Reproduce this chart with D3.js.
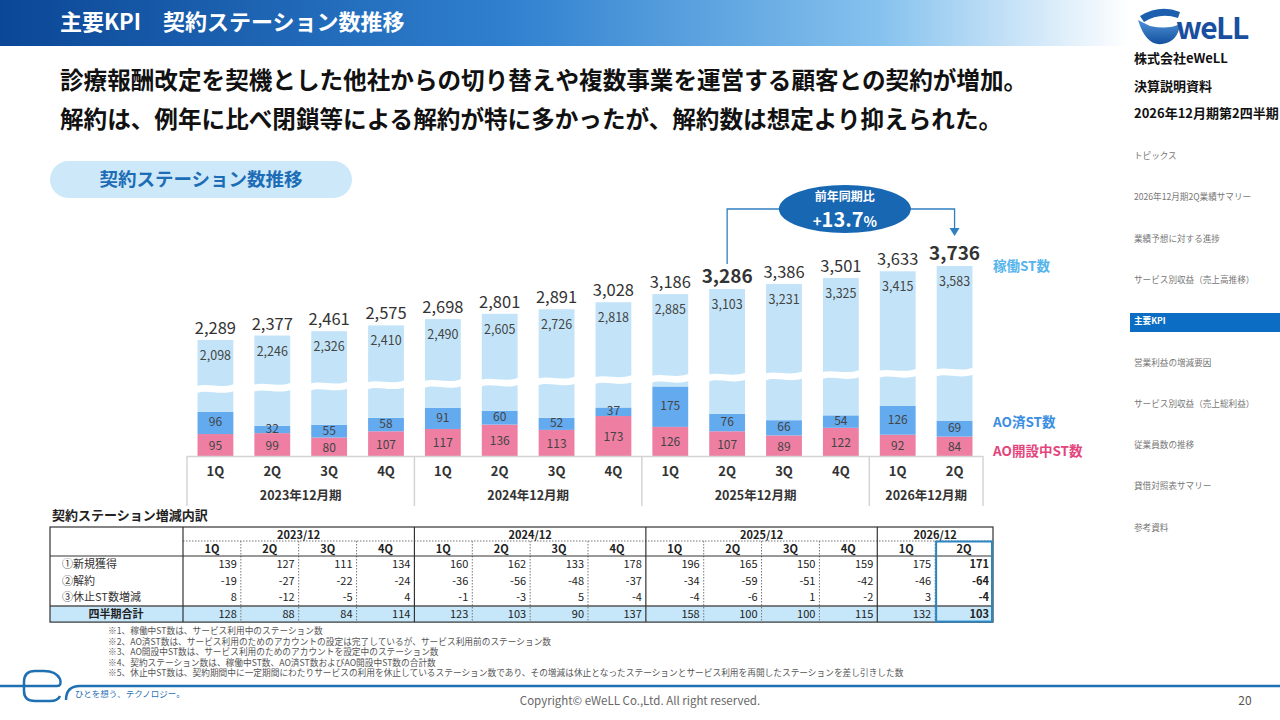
<!DOCTYPE html>
<html lang="ja">
<head>
<meta charset="utf-8">
<script src="https://cdn.jsdelivr.net/npm/d3@7"></script>
<style>
  html, body { margin: 0; padding: 0; background: #fff; }
  svg { display: block; font-family: "Noto Sans CJK JP", "Noto Sans", sans-serif; }
</style>
</head>
<body>
<svg id="slide" width="1280" height="720"></svg>
<script>
// ---- データ ----
const quarters = ["1Q","2Q","3Q","4Q","1Q","2Q","3Q","4Q","1Q","2Q","3Q","4Q","1Q","2Q"];
const fiscalYears = ["2023年12月期","2024年12月期","2025年12月期","2026年12月期"];
const yearCounts = [4, 4, 4, 2];
const tableYears = ["2023/12","2024/12","2025/12","2026/12"];

const activeST = [2098,2246,2326,2410,2490,2605,2726,2818,2885,3103,3231,3325,3415,3583];
const aoDoneST = [96,32,55,58,91,60,52,37,175,76,66,54,126,69];
const aoOpenST = [95,99,80,107,117,136,113,173,126,107,89,122,92,84];
const boldTotals = [9, 13];   // 前年同期比の比較対象

const newAcq = [139,127,111,134,160,162,133,178,196,165,150,159,175,171];
const cancelled = [-19,-27,-22,-24,-36,-56,-48,-37,-34,-59,-51,-42,-46,-64];
const suspendDiff = [8,-12,-5,4,-1,-3,5,-4,-4,-6,1,-2,3,-4];
const quarterTotal = [128,88,84,114,123,103,90,137,158,100,100,115,132,103];
const rowLabels = ["①新規獲得","②解約","③休止ST数増減"];

const yoyTitle = "前年同期比";
const yoyValue = "13.7";

const navItems = ["トピックス","2026年12月期2Q業績サマリー","業績予想に対する進捗","サービス別収益（売上高推移）",
  "主要KPI","営業利益の増減要因","サービス別収益（売上総利益）","従業員数の推移","貸借対照表サマリー","参考資料"];
const activeNav = 4;

const notes = [
  "※1、稼働中ST数は、サービス利用中のステーション数",
  "※2、AO済ST数は、サービス利用のためのアカウントの設定は完了しているが、サービス利用前のステーション数",
  "※3、AO開設中ST数は、サービス利用のためのアカウントを設定中のステーション数",
  "※4、契約ステーション数は、稼働中ST数、AO済ST数およびAO開設中ST数の合計数",
  "※5、休止中ST数は、契約期間中に一定期間にわたりサービスの利用を休止しているステーション数であり、その増減は休止となったステーションとサービス利用を再開したステーションを差し引きした数"
];

const totals = activeST.map((v, i) => v + aoDoneST[i] + aoOpenST[i]);
const fmt = d3.format(",");

const svg = d3.select("#slide");
const defs = svg.append("defs");

// ---- ヘッダー ----
const hg = defs.append("linearGradient").attr("id", "headGrad")
  .attr("x1", "0%").attr("y1", "0%").attr("x2", "100%").attr("y2", "0%");
hg.append("stop").attr("offset", "0%").attr("stop-color", "#0b4796");
hg.append("stop").attr("offset", "45%").attr("stop-color", "#2f80cf");
hg.append("stop").attr("offset", "78%").attr("stop-color", "#86c2ee");
hg.append("stop").attr("offset", "100%").attr("stop-color", "#ffffff");

svg.append("rect").attr("x", 0).attr("y", 0).attr("width", 1130).attr("height", 46)
  .attr("fill", "url(#headGrad)");
svg.append("text").attr("x", 60).attr("y", 30)
  .attr("fill", "#fff").attr("font-size", 22).attr("font-weight", 700)
  .text("主要KPI　契約ステーション数推移");

// リード文
svg.append("text").attr("x", 60).attr("y", 89)
  .attr("font-size", 23.6).attr("font-weight", 700).attr("fill", "#111")
  .text("診療報酬改定を契機とした他社からの切り替えや複数事業を運営する顧客との契約が増加。");
svg.append("text").attr("x", 60).attr("y", 128)
  .attr("font-size", 23.6).attr("font-weight", 700).attr("fill", "#111")
  .text("解約は、例年に比べ閉鎖等による解約が特に多かったが、解約数は想定より抑えられた。");

// 見出しピル
svg.append("rect").attr("x", 50).attr("y", 161).attr("width", 302).attr("height", 37)
  .attr("rx", 18.5).attr("fill", "#cce8f9");
svg.append("text").attr("x", 201).attr("y", 186).attr("text-anchor", "middle")
  .attr("font-size", 18.5).attr("font-weight", 700).attr("fill", "#1c6db5")
  .text("契約ステーション数推移");

// ---- 棒グラフ ----
const x = d3.scaleBand().domain(d3.range(quarters.length))
  .range([187, 983]).paddingInner(0.37).paddingOuter(0.185);
// 軸を途中で省略するので折れ線状のスケール
const y = d3.scaleLinear().domain([0, 329, 1507, 3736]).range([456, 380, 380, 266]);

const rows = quarters.map((q, i) => ({ i, open: aoOpenST[i], done: aoDoneST[i], active: activeST[i] }));
const series = d3.stack().keys(["open", "done", "active"])(rows);
const colors = { open: "#ee7fa2", done: "#64aaee", active: "#c3e4f8" };

const chart = svg.append("g");
chart.selectAll("g.series")
  .data(series)
  .enter().append("g")
  .attr("fill", d => colors[d.key])
  .selectAll("rect")
  .data(d => d)
  .enter().append("rect")
  .attr("x", d => x(d.data.i))
  .attr("y", d => y(d[1]))
  .attr("width", x.bandwidth())
  .attr("height", d => y(d[0]) - y(d[1]));

// 省略の波線（白）
const bw = x.bandwidth();
const breakY = cx => 388 - (cx - 215) * 0.0223;
chart.selectAll(".brk")
  .data(rows)
  .enter().append("path")
  .attr("class", "brk")
  .attr("fill", "#fff")
  .attr("d", d => {
    const x0 = x(d.i) - 1, x1 = x(d.i) + bw + 1, c = breakY(x(d.i) + bw / 2);
    return `M${x0},${c - 2} C${x0 + bw * 0.35},${c - 5} ${x0 + bw * 0.65},${c + 1} ${x1},${c - 4}`
      + ` L${x1},${c + 3} C${x0 + bw * 0.65},${c + 8} ${x0 + bw * 0.35},${c + 1} ${x0},${c + 5} Z`;
  });

// 段ごとの値ラベル
chart.selectAll(".lbl-open")
  .data(rows).enter().append("text")
  .attr("x", d => x(d.i) + bw / 2)
  .attr("y", d => (y(0) + y(d.open)) / 2 + 5)
  .attr("text-anchor", "middle").attr("font-size", 12).attr("fill", "#444")
  .text(d => d.open);
chart.selectAll(".lbl-done")
  .data(rows).enter().append("text")
  .attr("x", d => x(d.i) + bw / 2)
  .attr("y", d => (y(d.open) + y(d.open + d.done)) / 2 + 3.5)
  .attr("text-anchor", "middle").attr("font-size", 12).attr("fill", "#444")
  .text(d => d.done);
chart.selectAll(".lbl-active")
  .data(rows).enter().append("text")
  .attr("x", d => x(d.i) + bw / 2)
  .attr("y", d => y(totals[d.i]) + 20)
  .attr("text-anchor", "middle").attr("font-size", 12.5).attr("fill", "#444")
  .text(d => fmt(d.active));

// 合計ラベル
chart.selectAll(".lbl-total")
  .data(rows).enter().append("text")
  .attr("x", d => x(d.i) + bw / 2)
  .attr("y", d => y(totals[d.i]) - 6)
  .attr("text-anchor", "middle")
  .attr("font-size", d => boldTotals.includes(d.i) ? 19 : 16.5)
  .attr("font-weight", d => boldTotals.includes(d.i) ? 700 : 400)
  .attr("fill", "#333")
  .text(d => fmt(totals[d.i]));

// カテゴリ軸（四半期＋年度）
const axisG = svg.append("g");
axisG.append("line").attr("x1", 187).attr("x2", 983).attr("y1", 456.5).attr("y2", 456.5)
  .attr("stroke", "#d4d4d4").attr("stroke-width", 1.5);
let start = 0;
const groups = yearCounts.map((n, k) => { const g = { k, s: start, e: start + n - 1 }; start += n; return g; });
const groupLeft = g => x(g.s) - x.step() * x.paddingInner() / 2;
const groupRight = g => x(g.e) + bw + x.step() * x.paddingInner() / 2;
axisG.selectAll(".sep")
  .data([groupLeft(groups[0])].concat(groups.map(groupRight)))
  .enter().append("line")
  .attr("x1", d => d).attr("x2", d => d).attr("y1", 456).attr("y2", 506)
  .attr("stroke", "#d4d4d4").attr("stroke-width", 1.5);
axisG.selectAll(".q")
  .data(quarters).enter().append("text")
  .attr("x", (d, i) => x(i) + bw / 2).attr("y", 476)
  .attr("text-anchor", "middle").attr("font-size", 13).attr("font-weight", 700).attr("fill", "#333")
  .text(d => d);
axisG.selectAll(".fy")
  .data(groups).enter().append("text")
  .attr("x", g => (groupLeft(g) + groupRight(g)) / 2).attr("y", 500)
  .attr("text-anchor", "middle").attr("font-size", 12.5).attr("font-weight", 700).attr("fill", "#333")
  .text(g => fiscalYears[g.k]);

// 凡例（右側）
const legend = [
  { t: "稼働ST数", c: "#55b4ec" },
  { t: "AO済ST数", c: "#3b8ee2" },
  { t: "AO開設中ST数", c: "#e3457c" }
];
svg.selectAll(".leg")
  .data(legend).enter().append("text")
  .attr("x", 993).attr("y", (d, i) => [271, 427, 456][i])
  .attr("font-size", 13.5).attr("font-weight", 700).attr("fill", d => d.c)
  .text(d => d.t);

// 前年同期比の注記
const ax0 = x(9) + bw / 2, ax1 = x(13) + bw / 2;
const ex = (ax0 + ax1) / 2 + 4, ey = 209;
svg.append("path")
  .attr("d", `M${ax0},${y(totals[9]) - 25} V${ey} H${ax1} V${y(totals[13]) - 36}`)
  .attr("fill", "none").attr("stroke", "#2f7fc1").attr("stroke-width", 1.3);
svg.append("path")
  .attr("d", `M${ax1 - 5},${y(totals[13]) - 38} L${ax1 + 5},${y(totals[13]) - 38} L${ax1},${y(totals[13]) - 30} Z`)
  .attr("fill", "#2f7fc1");
svg.append("ellipse").attr("cx", ex).attr("cy", ey).attr("rx", 66).attr("ry", 24)
  .attr("fill", "#1767b3");
svg.append("text").attr("x", ex).attr("y", ey - 8).attr("text-anchor", "middle")
  .attr("fill", "#fff").attr("font-size", 12).attr("font-weight", 700).text(yoyTitle);
const yoy = svg.append("text").attr("x", ex).attr("y", ey + 18).attr("text-anchor", "middle")
  .attr("fill", "#fff").attr("font-weight", 700);
yoy.append("tspan").attr("font-size", 15).text("+");
yoy.append("tspan").attr("font-size", 20).text(yoyValue);
yoy.append("tspan").attr("font-size", 14).text("%");

// ---- 増減内訳テーブル ----
svg.append("text").attr("x", 52).attr("y", 520)
  .attr("font-size", 13).attr("font-weight", 700).attr("fill", "#222")
  .text("契約ステーション増減内訳");

const tx = d3.scaleBand().domain(d3.range(quarters.length)).range([183, 993]);
const tw = tx.bandwidth();
const T = { top: 527, yr: 541, qr: 556, rh: 16.7 };
const tableRows = [newAcq, cancelled, suspendDiff];
const totalTop = T.qr + T.rh * 3;
const tBottom = totalTop + 16;
const tbl = svg.append("g").attr("font-size", 11).attr("fill", "#222");

tbl.append("rect").attr("x", 50).attr("y", totalTop).attr("width", 943).attr("height", tBottom - totalTop)
  .attr("fill", "#c6e6f9");
// 四半期の点線
tbl.selectAll(".qdiv")
  .data(d3.range(1, quarters.length).filter(i => ![4, 8, 12].includes(i)))
  .enter().append("line")
  .attr("x1", i => tx(i)).attr("x2", i => tx(i)).attr("y1", T.yr).attr("y2", tBottom)
  .attr("stroke", "#777").attr("stroke-dasharray", "1.5,1.5");
tbl.append("line").attr("x1", 183).attr("x2", 993).attr("y1", T.yr).attr("y2", T.yr)
  .attr("stroke", "#777").attr("stroke-dasharray", "1.5,1.5");
tbl.append("line").attr("x1", 50).attr("x2", 993).attr("y1", T.qr).attr("y2", T.qr)
  .attr("stroke", "#333").attr("stroke-width", 1);
tbl.append("line").attr("x1", 50).attr("x2", 993).attr("y1", totalTop).attr("y2", totalTop)
  .attr("stroke", "#555").attr("stroke-width", 1.5);
// 年度の区切り
tbl.selectAll(".ydiv")
  .data([0, 4, 8, 12])
  .enter().append("line")
  .attr("x1", i => tx(i)).attr("x2", i => tx(i)).attr("y1", T.top).attr("y2", tBottom)
  .attr("stroke", "#333").attr("stroke-width", 1.2);
tbl.append("rect").attr("x", 50).attr("y", T.top).attr("width", 943).attr("height", tBottom - T.top)
  .attr("fill", "none").attr("stroke", "#333").attr("stroke-width", 1.2);

tbl.selectAll(".yh")
  .data(tableYears).enter().append("text")
  .attr("x", (d, k) => (tx(k * 4) + (k === 3 ? 993 : tx(k * 4 + 4))) / 2)
  .attr("y", T.top + 11.5).attr("text-anchor", "middle").attr("font-weight", 700)
  .text(d => d);
tbl.selectAll(".qh")
  .data(quarters).enter().append("text")
  .attr("x", (d, i) => tx(i) + tw / 2).attr("y", T.yr + 11.5)
  .attr("text-anchor", "middle").attr("font-weight", 700)
  .text(d => d);

tableRows.forEach((vals, r) => {
  const top = T.qr + r * T.rh;
  tbl.append("text").attr("x", 62).attr("y", top + 12).attr("fill", "#333").text(rowLabels[r]);
  tbl.selectAll(".v" + r)
    .data(vals).enter().append("text")
    .attr("x", (d, i) => tx(i) + tw - 4).attr("y", top + 12)
    .attr("text-anchor", "end").attr("font-weight", (d, i) => i === 13 ? 700 : 400)
    .text(d => d);
});
tbl.append("text").attr("x", 116).attr("y", totalTop + 12).attr("text-anchor", "middle")
  .attr("font-weight", 700).text("四半期合計");
tbl.selectAll(".vt")
  .data(quarterTotal).enter().append("text")
  .attr("x", (d, i) => tx(i) + tw - 4).attr("y", totalTop + 12)
  .attr("text-anchor", "end").attr("font-weight", (d, i) => i === 13 ? 700 : 400)
  .text(d => d);
// 当四半期の枠
tbl.append("rect").attr("x", tx(13) + 1).attr("y", T.yr + 0.5).attr("width", tw - 2).attr("height", tBottom - T.yr - 1)
  .attr("fill", "none").attr("stroke", "#2a86c0").attr("stroke-width", 2);

// 注記
svg.selectAll(".note")
  .data(notes).enter().append("text")
  .attr("x", 108).attr("y", (d, i) => 634 + i * 10.5)
  .attr("font-size", 8.7).attr("fill", "#555")
  .text(d => d);

// ---- フッター ----
svg.append("path")
  .attr("d", "M0,686 H57 Q62,686 60,679 Q56,671 44,671 H35 Q24,671 24,682 V691 Q24,701 35,701 H50 Q58,701 60,696")
  .attr("fill", "none").attr("stroke", "#1f6fb3").attr("stroke-width", 2.5);
svg.append("path")
  .attr("d", "M66,700 Q66,686 80,686 H1280")
  .attr("fill", "none").attr("stroke", "#1f6fb3").attr("stroke-width", 2.5);
svg.append("text").attr("x", 75).attr("y", 697).attr("font-size", 8.5).attr("fill", "#1f6fb3")
  .text("ひとを想う、テクノロジー。");
svg.append("text").attr("x", 640).attr("y", 705).attr("text-anchor", "middle")
  .attr("font-size", 11.5).attr("fill", "#666")
  .text("Copyright© eWeLL Co.,Ltd. All right reserved.");
svg.append("text").attr("x", 1245).attr("y", 705).attr("text-anchor", "middle")
  .attr("font-size", 12).attr("fill", "#555").text("20");

// ---- サイドバー ----
const lg = defs.append("linearGradient").attr("id", "logoGrad")
  .attr("x1", "0%").attr("y1", "0%").attr("x2", "0%").attr("y2", "100%");
lg.append("stop").attr("offset", "0%").attr("stop-color", "#4f93d6");
lg.append("stop").attr("offset", "100%").attr("stop-color", "#13509f");
svg.append("path")
  .attr("d", "M1138,20 Q1146,46 1162,44 Q1178,42 1180,24 Q1168,30 1150,26 Z")
  .attr("fill", "url(#logoGrad)");
svg.append("path")
  .attr("d", "M1140,16 Q1160,4 1180,12 L1178,18 Q1160,12 1144,22 Z")
  .attr("fill", "#1b5fae");
svg.append("text").attr("x", 1176).attr("y", 39)
  .attr("font-size", 30).attr("font-weight", 700).attr("fill", "#1a4fa0")
  .attr("letter-spacing", -1.5).text("weLL");

const side = svg.append("g").attr("font-weight", 700).attr("font-size", 13).attr("fill", "#111");
side.append("text").attr("x", 1134).attr("y", 63).text("株式会社eWeLL");
side.append("text").attr("x", 1134).attr("y", 91).text("決算説明資料");
side.append("text").attr("x", 1134).attr("y", 118).text("2026年12月期第2四半期");

svg.append("rect").attr("x", 1130).attr("y", 313).attr("width", 150).attr("height", 19)
  .attr("fill", "#0b6ec4");
svg.selectAll(".nav")
  .data(navItems).enter().append("text")
  .attr("x", 1134).attr("y", (d, i) => 159 + i * 41.3)
  .attr("font-size", 8.6)
  .attr("font-weight", (d, i) => i === activeNav ? 700 : 400)
  .attr("fill", (d, i) => i === activeNav ? "#fff" : "#777")
  .text(d => d);
</script>
</body>
</html>
